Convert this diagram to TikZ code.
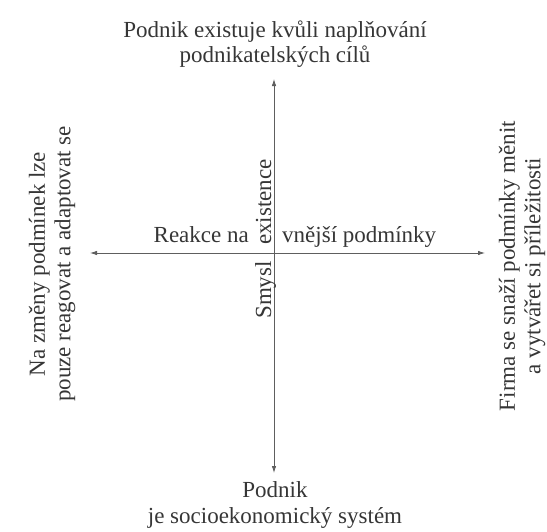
\documentclass[tikz,border=0pt]{standalone}
\usepackage{fontspec}
\setmainfont{Liberation Serif}
\usetikzlibrary{arrows.meta}
\definecolor{ink}{HTML}{363636}
\tikzset{
  axis/.style={draw=ink!80, line width=0.8pt, -{Latex[length=7pt,width=4.5pt]}},
  lbl/.style={text=ink, font=\fontsize{23}{25.5}\selectfont, inner sep=0pt, align=center},
}
\begin{document}
\begin{tikzpicture}[x=1pt,y=-1pt]
  \useasboundingbox[fill=white] (0,0) rectangle (547,531);
  % centre of the cross and the four arrow tips
  \coordinate (o) at (274,253);
  \coordinate (top) at (274,79);
  \coordinate (bot) at (274,473);
  \coordinate (lft) at (90,253);
  \coordinate (rgt) at (485,253);
  \draw[axis] (o) -- (top);
  \draw[axis] (o) -- (bot);
  \draw[axis] (o) -- (lft);
  \draw[axis] (o) -- (rgt);
  % pole labels
  \node[lbl] (n) at (275,44) {Podnik existuje kvůli naplňování\\podnikatelských cílů};
  \node[lbl] (s) at (275,505) {Podnik\\je socioekonomický systém};
  \node[lbl, rotate=90] (w) at (52,264) {Na změny podmínek lze\\pouze reagovat a adaptovat se};
  \node[lbl, rotate=90] (e) at (522,266) {Firma se snaží podmínky měnit\\a vytvářet si příležitosti};
  % axis labels
  \node[lbl, anchor=base east] (r1) at (249,242) {Reakce na};
  \node[lbl, anchor=base west] (r2) at (282,242) {vnější podmínky};
  \node[lbl, rotate=90, anchor=base west] (m1) at (271,245) {existence};
  \node[lbl, rotate=90, anchor=base east] (m2) at (271,261) {Smysl};
\end{tikzpicture}
\end{document}
